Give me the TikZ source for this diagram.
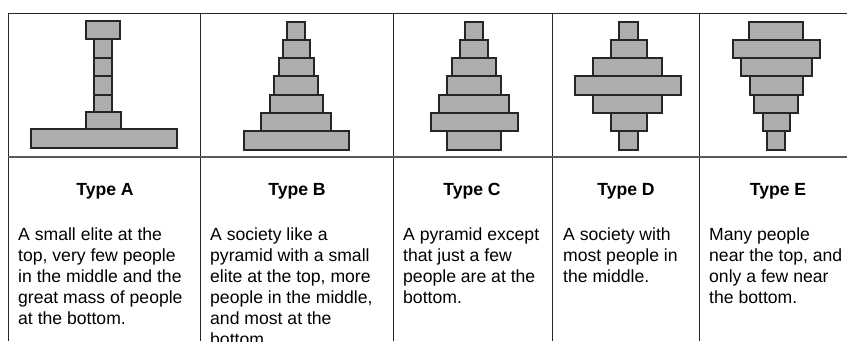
\documentclass[tikz,border=0pt]{standalone}
\usepackage{fontspec}
\setmainfont{Liberation Sans}
\begin{document}
\begin{tikzpicture}[x=1pt,y=-1pt,
  gridline/.style={draw=black!85, line width=0.9pt},
  rowline/.style={draw=black!65, line width=1.6pt},
  bar/.style={draw=black!85, line width=1.3pt, fill=black!32},
  head/.style={font=\bfseries\fontsize{17.6}{21}\selectfont, anchor=base, inner sep=0pt},
  body/.style={font=\fontsize{17.6}{21}\selectfont, anchor=base west, align=left, inner sep=0pt}]
\useasboundingbox[fill=white] (0,0) rectangle (847,341);
% table lines
\draw[gridline] (8,13) -- (847,13);
\draw[gridline] (8,13) -- (8,341);
\foreach \x in {200,393,552,699} \draw[gridline] (\x,13) -- (\x,341);
\draw[rowline] (8,157) -- (847,157);
% Type A
\draw[bar] (31,129) rectangle (177,148);
\draw[bar] (86,112) rectangle (121,129);
\draw[bar] (94,95) rectangle (112,112);
\draw[bar] (94,76) rectangle (112,95);
\draw[bar] (94,58) rectangle (112,76);
\draw[bar] (94,39) rectangle (112,58);
\draw[bar] (86,21) rectangle (120,39);
% Type B
\draw[bar] (287,22) rectangle (305,40);
\draw[bar] (283,40) rectangle (310,58);
\draw[bar] (279,58) rectangle (314,76);
\draw[bar] (274,76) rectangle (318,95);
\draw[bar] (270,95) rectangle (323,113);
\draw[bar] (261,113) rectangle (331,131);
\draw[bar] (244,131) rectangle (349,150);
% Type C
\draw[bar] (465,22) rectangle (483,40);
\draw[bar] (460,40) rectangle (488,58);
\draw[bar] (452,58) rectangle (496,76);
\draw[bar] (447,76) rectangle (501,95);
\draw[bar] (439,95) rectangle (509,113);
\draw[bar] (431,113) rectangle (518,131);
\draw[bar] (447,131) rectangle (501,150);
% Type D
\draw[bar] (619,22) rectangle (638,40);
\draw[bar] (611,40) rectangle (647,58);
\draw[bar] (593,58) rectangle (662,76);
\draw[bar] (575,76) rectangle (681,95);
\draw[bar] (593,95) rectangle (662,113);
\draw[bar] (611,113) rectangle (647,131);
\draw[bar] (619,131) rectangle (638,150);
% Type E
\draw[bar] (749,22) rectangle (803,40);
\draw[bar] (733,40) rectangle (820,58);
\draw[bar] (741,58) rectangle (812,76);
\draw[bar] (750,76) rectangle (803,95);
\draw[bar] (754,95) rectangle (798,113);
\draw[bar] (763,113) rectangle (790,131);
\draw[bar] (767,131) rectangle (785,150);
% headings
\node[head] (hA) at (105,195) {Type A};
\node[head] (hB) at (297,195) {Type B};
\node[head] (hC) at (472,195) {Type C};
\node[head] (hD) at (626,195) {Type D};
\node[head] (hE) at (778,195) {Type E};
% descriptions (anchored at the baseline of their last line; first line at y=240, pitch 21)
\node[body] (tA) at (18,324) {A small elite at the\\top, very few people\\in the middle and the\\great mass of people\\at the bottom.};
\node[body] (tB) at (210,345) {A society like a\\pyramid with a small\\elite at the top, more\\people in the middle,\\and most at the\\bottom.};
\node[body] (tC) at (403,303) {A pyramid except\\that just a few\\people are at the\\bottom.};
\node[body] (tD) at (563,282) {A society with\\most people in\\the middle.};
\node[body] (tE) at (709,303) {Many people\\near the top, and\\only a few near\\the bottom.};
\end{tikzpicture}
\end{document}
